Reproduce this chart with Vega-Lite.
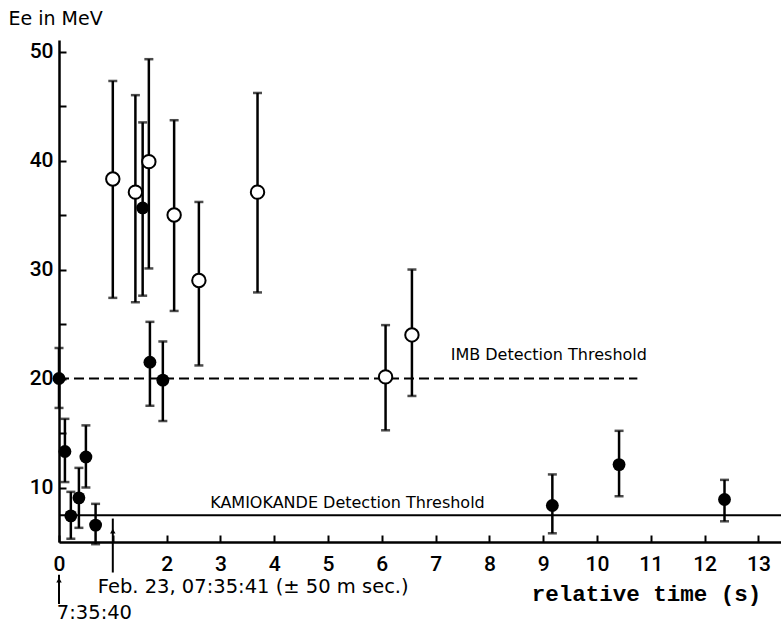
{
  "$schema": "https://vega.github.io/schema/vega-lite/v6.json",
  "autosize": {"type": "none"},
  "padding": {"left": 59, "top": 40, "right": 0, "bottom": 86},
  "width": 722,
  "height": 502,
  "background": "white",
  "config": {"view": {"stroke": null}},
  "datasets": {
    "events": [
      {"det": "Kamiokande", "t": 0.0, "E": 20.0, "lo": 17.3, "hi": 22.8},
      {"det": "Kamiokande", "t": 0.11, "E": 13.3, "lo": 10.5, "hi": 16.3},
      {"det": "Kamiokande", "t": 0.22, "E": 7.4, "lo": 5.3, "hi": 9.6},
      {"det": "Kamiokande", "t": 0.37, "E": 9.05, "lo": 6.3, "hi": 11.8},
      {"det": "Kamiokande", "t": 0.5, "E": 12.8, "lo": 10.0, "hi": 15.7},
      {"det": "Kamiokande", "t": 0.68, "E": 6.55, "lo": 4.8, "hi": 8.5},
      {"det": "Kamiokande", "t": 1.555, "E": 35.65, "lo": 27.6, "hi": 43.5},
      {"det": "Kamiokande", "t": 1.69, "E": 21.5, "lo": 17.5, "hi": 25.2},
      {"det": "Kamiokande", "t": 1.93, "E": 19.85, "lo": 16.1, "hi": 23.4},
      {"det": "Kamiokande", "t": 9.17, "E": 8.35, "lo": 5.8, "hi": 11.2},
      {"det": "Kamiokande", "t": 10.41, "E": 12.1, "lo": 9.2, "hi": 15.2},
      {"det": "Kamiokande", "t": 12.37, "E": 8.9, "lo": 6.9, "hi": 10.7},
      {"det": "IMB", "t": 1.0, "E": 38.3, "lo": 27.4, "hi": 47.3},
      {"det": "IMB", "t": 1.42, "E": 37.1, "lo": 27.0, "hi": 46.0},
      {"det": "IMB", "t": 1.67, "E": 39.9, "lo": 30.1, "hi": 49.3},
      {"det": "IMB", "t": 2.14, "E": 35.0, "lo": 26.2, "hi": 43.7},
      {"det": "IMB", "t": 2.6, "E": 29.0, "lo": 21.2, "hi": 36.2},
      {"det": "IMB", "t": 3.69, "E": 37.1, "lo": 27.9, "hi": 46.2},
      {"det": "IMB", "t": 6.07, "E": 20.15, "lo": 15.25, "hi": 24.9},
      {"det": "IMB", "t": 6.56, "E": 24.0, "lo": 18.4, "hi": 30.0}
    ],
    "thresholds": [
      {"name": "IMB", "t0": 0, "t1": 10.75, "E": 20, "label": "IMB Detection  Threshold", "lt": 7.28, "lE": 22.2},
      {"name": "KAMIOKANDE", "t0": 0, "t1": 13.42, "E": 7.45, "label": "KAMIOKANDE Detection  Threshold", "lt": 2.81, "lE": 8.6}
    ],
    "arrows": [
      {"t": 0, "y1": -0.7, "y2": 2.0, "head": 1.5},
      {"t": 1, "y1": 2.2, "y2": 7.15, "head": 6.0}
    ],
    "notes": [
      {"t": 0.72, "E": 0.9, "text": "Feb. 23, 07:35:41 (± 50 m sec.)"},
      {"t": -0.04, "E": -1.5, "text": "7:35:40"}
    ]
  },
  "layer": [
    {
      "data": {"name": "thresholds"},
      "transform": [{"filter": "datum.name === 'IMB'"}],
      "mark": {"type": "rule", "color": "black", "strokeWidth": 2, "strokeDash": [10, 5]},
      "encoding": {
        "x": {"field": "t0", "type": "quantitative", "scale": {"domain": [0, 13.42], "nice": false, "zero": false},
          "axis": {"values": [0,1,2,3,4,5,6,7,8,9,10,11,12,13], "format": "d", "labelExpr": "datum.value === 1 ? '' : datum.label",
            "title": "relative time (s)", "titleFont": "Liberation Mono", "titleFontWeight": "bold", "titleFontSize": 22.5,
            "titleColor": "black", "titleX": 587, "titleY": 51, "titleAlign": "center", "titleBaseline": "middle",
            "grid": false, "ticks": true, "domainColor": "black", "domainWidth": 2.5, "tickColor": "black", "tickWidth": 2, "tickSize": -7,
            "labelFont": "Roboto", "labelFontWeight": 500, "labelFontSize": 21, "labelColor": "black", "labelPadding": 18, "labelFlush": false}},
        "x2": {"field": "t1"},
        "y": {"field": "E", "type": "quantitative", "scale": {"domain": [5, 51.06], "nice": false, "zero": false},
          "axis": {"values": [10,15,20,25,30,35,40,45,50], "labelExpr": "datum.value % 10 === 0 ? datum.label : ''",
            "title": "Ee in MeV", "titleFont": "DejaVu Sans", "titleFontWeight": "normal", "titleFontSize": 19, "titleColor": "black",
            "titleAngle": 0, "titleAlign": "left", "titleBaseline": "middle", "titleX": -51, "titleY": -22,
            "grid": false, "ticks": true, "domainColor": "black", "domainWidth": 2.5, "tickColor": "black", "tickWidth": 2, "tickSize": -7,
            "labelFont": "Roboto", "labelFontWeight": 500, "labelFontSize": 21, "labelColor": "black", "labelPadding": 13, "labelFlush": false}}
      }
    },
    {
      "data": {"name": "thresholds"},
      "transform": [{"filter": "datum.name === 'KAMIOKANDE'"}],
      "mark": {"type": "rule", "color": "black", "strokeWidth": 2},
      "encoding": {
        "x": {"field": "t0", "type": "quantitative"},
        "x2": {"field": "t1"},
        "y": {"field": "E", "type": "quantitative"}
      }
    },
    {
      "data": {"name": "thresholds"},
      "mark": {"type": "text", "align": "left", "baseline": "middle", "font": "DejaVu Sans", "fontSize": 16, "color": "black"},
      "encoding": {
        "x": {"field": "lt", "type": "quantitative"},
        "y": {"field": "lE", "type": "quantitative"},
        "text": {"field": "label"}
      }
    },
    {
      "data": {"name": "events"},
      "mark": {"type": "rule", "color": "black", "strokeWidth": 2.5},
      "encoding": {
        "x": {"field": "t", "type": "quantitative"},
        "y": {"field": "lo", "type": "quantitative"},
        "y2": {"field": "hi"}
      }
    },
    {
      "data": {"name": "events"},
      "mark": {"type": "tick", "orient": "horizontal", "color": "black", "size": 9, "thickness": 2.5},
      "encoding": {
        "x": {"field": "t", "type": "quantitative"},
        "y": {"field": "lo", "type": "quantitative"}
      }
    },
    {
      "data": {"name": "events"},
      "mark": {"type": "tick", "orient": "horizontal", "color": "black", "size": 9, "thickness": 2.5},
      "encoding": {
        "x": {"field": "t", "type": "quantitative"},
        "y": {"field": "hi", "type": "quantitative"}
      }
    },
    {
      "data": {"name": "events"},
      "transform": [{"filter": "datum.det === 'Kamiokande'"}],
      "mark": {"type": "point", "shape": "circle", "filled": true, "color": "black", "opacity": 1, "size": 165},
      "encoding": {
        "x": {"field": "t", "type": "quantitative"},
        "y": {"field": "E", "type": "quantitative"}
      }
    },
    {
      "data": {"name": "events"},
      "transform": [{"filter": "datum.det === 'IMB'"}],
      "mark": {"type": "point", "shape": "circle", "filled": true, "fill": "white", "stroke": "black", "strokeWidth": 2, "opacity": 1, "size": 180},
      "encoding": {
        "x": {"field": "t", "type": "quantitative"},
        "y": {"field": "E", "type": "quantitative"}
      }
    },
    {
      "data": {"name": "arrows"},
      "mark": {"type": "rule", "color": "black", "strokeWidth": 2},
      "encoding": {
        "x": {"field": "t", "type": "quantitative"},
        "y": {"field": "y1", "type": "quantitative"},
        "y2": {"field": "y2"}
      }
    },
    {
      "data": {"name": "arrows"},
      "mark": {"type": "point", "shape": "triangle-up", "filled": true, "color": "black", "opacity": 1, "size": 30},
      "encoding": {
        "x": {"field": "t", "type": "quantitative"},
        "y": {"field": "head", "type": "quantitative"}
      }
    },
    {
      "data": {"name": "notes"},
      "mark": {"type": "text", "align": "left", "baseline": "middle", "font": "DejaVu Sans", "fontSize": 19.5, "color": "black"},
      "encoding": {
        "x": {"field": "t", "type": "quantitative"},
        "y": {"field": "E", "type": "quantitative"},
        "text": {"field": "text"}
      }
    }
  ]
}
